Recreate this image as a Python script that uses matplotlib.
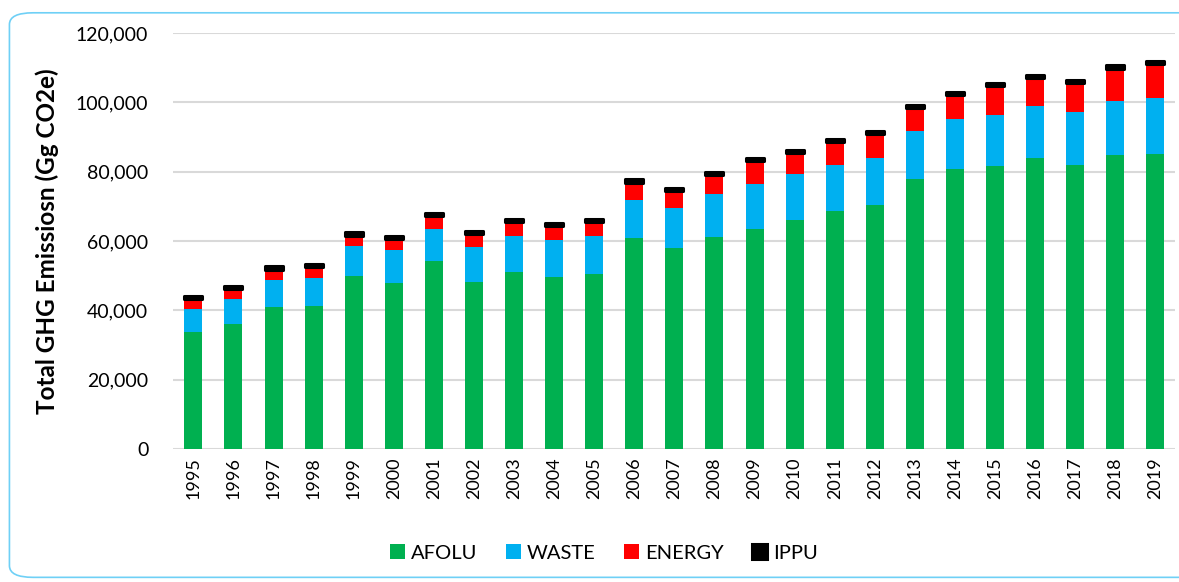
import matplotlib
matplotlib.use("Agg")
import matplotlib.pyplot as plt
from matplotlib.patches import FancyBboxPatch
from matplotlib.ticker import FuncFormatter
import numpy as np

plt.rcParams['font.family'] = ['Lato', 'DejaVu Sans']

years = [str(y) for y in range(1995, 2020)]
afolu = [33.8, 36.2, 41.0, 41.3, 50.0, 47.9, 54.2, 48.3, 51.1, 49.7, 50.4, 60.8, 57.9,
         61.2, 63.5, 66.1, 68.7, 70.4, 77.8, 80.7, 81.7, 84.0, 81.9, 84.7, 85.1]
waste = [6.6, 7.2, 7.7, 8.1, 8.6, 9.5, 9.3, 9.9, 10.3, 10.6, 11.0, 11.2, 11.6,
         12.4, 13.0, 13.2, 13.4, 13.6, 13.9, 14.5, 14.6, 14.9, 15.4, 15.8, 16.2]
energy = [2.9, 2.7, 3.1, 3.2, 3.0, 3.2, 3.7, 3.8, 4.0, 4.1, 4.2, 4.9, 5.0,
          5.4, 6.6, 6.2, 6.5, 7.0, 6.6, 6.9, 8.4, 8.2, 8.4, 9.3, 9.7]
ippu = [0.9] * 25

# thousands -> Gg
afolu = np.array(afolu) * 1000
waste = np.array(waste) * 1000
energy = np.array(energy) * 1000
ippu = np.array(ippu) * 1000

fig = plt.figure(figsize=(11.79, 5.82), dpi=100)
ax = fig.add_axes([0.147, 0.2285, 0.85, 0.7145])

x = np.arange(len(years))
w = 0.45
ax.bar(x, afolu, w, color='#00B050', label='AFOLU', zorder=3)
ax.bar(x, waste, w, bottom=afolu, color='#00B0F0', label='WASTE', zorder=3)
ax.bar(x, energy, w, bottom=afolu + waste, color='#FF0000', label='ENERGY', zorder=3)
ax.bar(x, ippu, w, bottom=afolu + waste + energy, color='black', edgecolor='black',
       linewidth=2.2, joinstyle='round', label='IPPU', zorder=3)

ax.set_ylim(0, 120000)
ax.set_xlim(-0.5, len(years) - 0.5)
ax.set_yticks(range(0, 120001, 20000))
ax.yaxis.set_major_formatter(FuncFormatter(lambda v, p: f'{int(v):,}'))
ax.set_xticks(x)
ax.set_xticklabels(years, rotation=90, fontsize=13)
ax.tick_params(axis='y', labelsize=14, length=0, pad=18)
ax.tick_params(axis='x', length=0, pad=6)
ax.grid(axis='y', color='#d9d9d9', linewidth=1.5, zorder=0)
for s in ax.spines.values():
    s.set_visible(False)

ax.set_ylabel('Total GHG Emissiosn (Gg CO2e)', fontsize=17.5, fontweight='bold', labelpad=12)

fig.legend(loc='center', bbox_to_anchor=(0.512, 0.05), ncol=4, frameon=False,
           fontsize=14.5, handlelength=0.75, handleheight=0.75, columnspacing=1.4,
           handletextpad=0.3)

border = FancyBboxPatch((0.008, 0.008), 1.1, 0.97, boxstyle='round,pad=0,rounding_size=0.02',
                        transform=fig.transFigure, facecolor='none', edgecolor='#6fd0f6',
                        linewidth=1.2)
fig.patches.append(border)

fig.savefig('out.png', dpi=100)
